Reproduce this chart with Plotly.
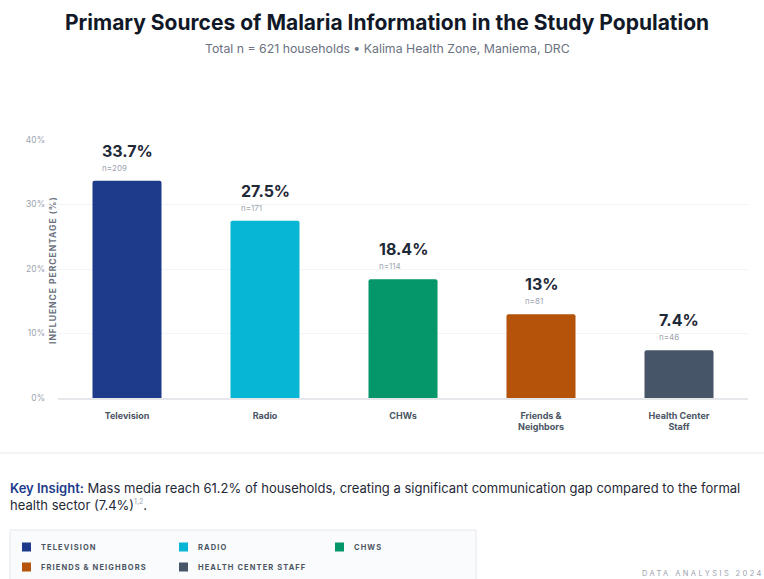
import plotly.graph_objects as go

categories = ["Television", "Radio", "CHWs", "Friends & Neighbors", "Health Center Staff"]
tick_labels = ["Television", "Radio", "CHWs", "Friends &<br>Neighbors", "Health Center<br>Staff"]
percent = [33.7, 27.5, 18.4, 13, 7.4]
counts = [209, 171, 114, 81, 46]
colors = ["#1e3a8a", "#06b6d4", "#059669", "#b45309", "#475569"]
y_ticks = [0, 10, 20, 30, 40]

W, H = 764, 579
ML, MR, MT, MB = 58, 16, 140, 181
PW, PH = W - ML - MR, H - MT - MB
FONT = "Inter"


def px(x):
    return (x - ML) / PW


def py(y):
    return (H - MB - y) / PH


fig = go.Figure()
for cat, tl, v, c in zip(categories, tick_labels, percent, colors):
    fig.add_trace(go.Bar(
        x=[tl], y=[v], marker=dict(color=c, cornerradius=2, line=dict(width=0)),
        width=0.5, name=cat, showlegend=False, hoverinfo="skip"))

annotations = []
for tl, v, n in zip(tick_labels, percent, counts):
    label = f"{v:g}%"
    annotations.append(dict(
        x=tl, y=v, xref="x", yref="y", xanchor="center", yanchor="bottom",
        yshift=6, align="left", showarrow=False,
        text=(f"<span style='font-size:16px;color:#1f2937'><b>{label}</b></span>"
              f"<br><span style='font-size:8px;color:#9ca3af'>n={n}</span>"),
        font=dict(family=FONT, size=11)))

# title and subtitle
annotations.append(dict(x=px(387), y=py(22), xref="paper", yref="paper", xanchor="center",
                        yanchor="middle", showarrow=False,
                        text="<b>Primary Sources of Malaria Information in the Study Population</b>",
                        font=dict(family=FONT, size=21, color="#111827")))
annotations.append(dict(x=px(387), y=py(48), xref="paper", yref="paper", xanchor="center",
                        yanchor="middle", showarrow=False,
                        text="Total n = 621 households • Kalima Health Zone, Maniema, DRC",
                        font=dict(family=FONT, size=12.3, color="#6b7280")))
# y axis title
annotations.append(dict(x=px(53), y=py(270), xref="paper", yref="paper", xanchor="center",
                        yanchor="middle", showarrow=False, textangle=-90,
                        text="<span style='letter-spacing:1px'><b>INFLUENCE PERCENTAGE (%)</b></span>",
                        font=dict(family=FONT, size=8.5, color="#6b7280")))
# key insight
annotations.append(dict(x=px(8), y=py(496), xref="paper", yref="paper", xanchor="left",
                        yanchor="middle", showarrow=False, align="left",
                        text=("<span style='color:#1e3a8a;font-weight:600'>Key Insight:</span> Mass media reach 61.2% of households, "
                              "creating a significant communication gap compared to the formal<br>"
                              "health sector (7.4%)<sup><span style='color:#9ca3af;font-size:7px'>1,2</span></sup>."),
                        font=dict(family=FONT, size=13, color="#1f2937")))
# footer
annotations.append(dict(x=px(766), y=py(573), xref="paper", yref="paper", xanchor="right",
                        yanchor="middle", showarrow=False,
                        text="<span style='letter-spacing:2.4px'>DATA ANALYSIS 2024</span>",
                        font=dict(family=FONT, size=7.5, color="#9ca3af")))

shapes = []
# separator line
shapes.append(dict(type="line", xref="paper", yref="paper", x0=px(0), x1=px(W), y0=py(453), y1=py(453),
                   line=dict(color="#f0f1f3", width=1.5)))
# legend box
shapes.append(dict(type="rect", xref="paper", yref="paper", x0=px(10), x1=px(476), y0=py(530), y1=py(600),
                   line=dict(color="#e5e7eb", width=1), fillcolor="#fafbfc", layer="below"))
col_x = [22, 179, 335]
row_y = [547, 567]
for i, (cat, c) in enumerate(zip(categories, colors)):
    cx = col_x[i % 3]
    cy = row_y[i // 3]
    shapes.append(dict(type="rect", xref="paper", yref="paper", x0=px(cx), x1=px(cx + 9),
                       y0=py(cy - 4.5), y1=py(cy + 4.5), line=dict(width=0), fillcolor=c))
    annotations.append(dict(x=px(cx + 17), y=py(cy), xref="paper", yref="paper", xanchor="left",
                            yanchor="middle", showarrow=False,
                            text=f"<span style='letter-spacing:1.1px'><b>{cat.upper()}</b></span>",
                            font=dict(family=FONT, size=7.5, color="#4b5563")))

fig.update_layout(
    width=W, height=H, autosize=False,
    margin=dict(l=ML, r=MR, t=MT, b=MB),
    paper_bgcolor="white", plot_bgcolor="white",
    barmode="overlay",
    showlegend=False,
    annotations=annotations, shapes=shapes,
    font=dict(family=FONT),
    xaxis=dict(showgrid=False, showline=True, linecolor="#e5e7eb", linewidth=1.5, ticks="",
               ticklabelstandoff=8, tickfont=dict(family=FONT, size=9, color="#4b5563", weight="bold"),
               fixedrange=True),
    yaxis=dict(range=[0, 40], tickvals=y_ticks, ticktext=[f"{t}%" for t in y_ticks],
               showgrid=True, gridcolor="#f3f4f6", gridwidth=1, zeroline=False, showline=False,
               ticks="", ticklabelstandoff=12, tickfont=dict(family=FONT, size=8.5, color="#9ca3af"),
               fixedrange=True),
)

fig.write_html("out.html")
